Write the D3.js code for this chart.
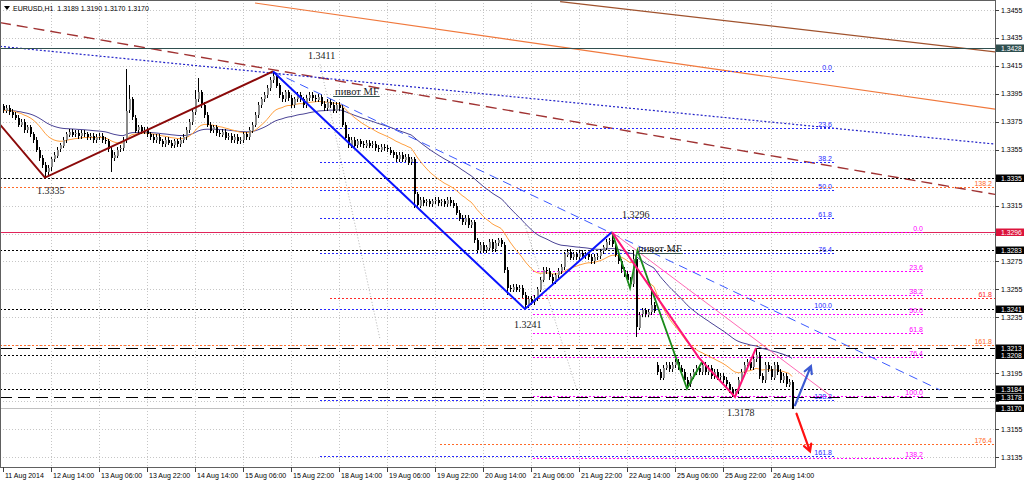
<!DOCTYPE html>
<html><head><meta charset="utf-8">
<script src="https://cdn.jsdelivr.net/npm/d3@7"></script>
<style>body{margin:0;background:#fff;overflow:hidden}svg{display:block}</style>
</head><body><svg id="c" width="1024" height="482"></svg>
<script>
// ---------------- DATA ----------------
const symbolHeader = "EURUSD,H1  1.3189 1.3190 1.3170 1.3170";
const firstOpen = 1.3386;
const closes = [
1.3383,1.3385,1.3382,1.3380,1.3378,1.3373,1.3375,1.3369,1.3371,1.3366,
1.3362,1.3355,1.3349,1.3344,1.3339,1.3342,1.3348,1.3351,1.3355,1.3358,
1.3362,1.3366,1.3368,1.3366,1.3367,1.3365,1.3367,1.3366,1.3364,1.3365,
1.3362,1.3364,1.3365,1.3362,1.3361,1.3355,1.3349,1.3351,1.3355,1.3356,
1.3362,1.3383,1.3391,1.3378,1.3369,1.3371,1.3368,1.3369,1.3366,1.3364,
1.3362,1.3364,1.3361,1.3359,1.3362,1.3360,1.3358,1.3361,1.3359,1.3362,
1.3364,1.3369,1.3375,1.3382,1.3391,1.3396,1.3387,1.3380,1.3373,1.3369,
1.3371,1.3367,1.3366,1.3368,1.3364,1.3365,1.3362,1.3364,1.3361,1.3362,
1.3366,1.3364,1.3369,1.3373,1.3380,1.3387,1.3391,1.3394,1.3399,1.3405,
1.3408,1.3401,1.3394,1.3391,1.3396,1.3392,1.3387,1.3391,1.3394,1.3391,
1.3387,1.3392,1.3394,1.3392,1.3391,1.3393,1.3388,1.3385,1.3389,1.3387,
1.3383,1.3387,1.3385,1.3373,1.3364,1.3358,1.3362,1.3358,1.3361,1.3359,
1.3358,1.3360,1.3358,1.3359,1.3356,1.3355,1.3357,1.3356,1.3355,1.3353,
1.3351,1.3348,1.3351,1.3348,1.3350,1.3346,1.3348,1.3323,1.3315,1.3319,
1.3317,1.3318,1.3316,1.3318,1.3319,1.3317,1.3318,1.3316,1.3319,1.3317,
1.3315,1.3310,1.3306,1.3303,1.3306,1.3301,1.3303,1.3290,1.3283,1.3287,
1.3283,1.3285,1.3289,1.3284,1.3288,1.3290,1.3287,1.3269,1.3256,1.3255,
1.3257,1.3255,1.3256,1.3251,1.3244,1.3248,1.3246,1.3249,1.3255,1.3262,
1.3269,1.3268,1.3264,1.3261,1.3265,1.3268,1.3271,1.3280,1.3282,1.3278,
1.3280,1.3278,1.3281,1.3279,1.3280,1.3278,1.3275,1.3278,1.3279,1.3282,
1.3285,1.3289,1.3290,1.3287,1.3280,1.3275,1.3269,1.3266,1.3262,1.3259,
1.3277,1.3228,1.3237,1.3240,1.3237,1.3239,1.3244,1.3240,1.3196,1.3192,
1.3199,1.3201,1.3198,1.3201,1.3203,1.3199,1.3196,1.3190,1.3187,1.3193,
1.3196,1.3199,1.3196,1.3201,1.3196,1.3199,1.3193,1.3196,1.3192,1.3193,
1.3190,1.3187,1.3183,1.3180,1.3182,1.3190,1.3196,1.3201,1.3203,1.3199,
1.3205,1.3208,1.3193,1.3190,1.3201,1.3198,1.3192,1.3201,1.3196,1.3190,
1.3193,1.3187,1.3189,1.3170];
const gapOpens = [[218, 1.3201]];
// [bar, high, low] (null = body edge + normal wick)
const spikes = [[14,null,1.3335],[36,null,1.3339],[41,1.3413,null],[42,1.3401,null],[64,1.3398,null],
 [65,1.3406,null],[90,1.3411,null],[137,null,1.3313],[168,null,1.3251],[174,null,1.3241],
 [203,1.3296,null],[210,1.3283,null],[211,null,1.3221],[216,1.3257,null],[244,null,1.3178],
 [251,1.3213,null],[263,1.3190,1.3170]];

const priceTickLabels = ["1.3135","1.3155","1.3175","1.3195","1.3215","1.3235","1.3255","1.3275",
 "1.3295","1.3315","1.3335","1.3355","1.3375","1.3395","1.3415","1.3435","1.3455"];
const timeTickBars = [0,16,32,48,64,80,96,112,128,144,160,176,192,208,224,240,256];
const timeTickLabels = ["11 Aug 2014","12 Aug 14:00","13 Aug 06:00","13 Aug 22:00","14 Aug 14:00",
 "15 Aug 06:00","15 Aug 22:00","18 Aug 14:00","19 Aug 06:00","19 Aug 22:00","20 Aug 14:00",
 "21 Aug 06:00","21 Aug 22:00","22 Aug 14:00","25 Aug 06:00","25 Aug 22:00","26 Aug 14:00"];

const blackDottedLevels = [1.3335, 1.3283, 1.3241, 1.3208, 1.3184];
const blackDashedLevels = [1.3213, 1.3178];
const resistanceLevel = 1.3296;
const upperLevel = 1.3428;
const bidLevel = 1.3170;
const priceBoxes = [1.3428, 1.3335, 1.3296, 1.3283, 1.3241, 1.3213, 1.3208, 1.3184, 1.3178, 1.3170];

const fibBlue = {a:1.3411, b:1.3241, from:105.7, to:277.3};
const fibBlueLevels = [0, 23.6, 38.2, 50.0, 61.8, 76.4, 100.0, 138.2, 161.8];
const fibMag = {a:1.3296, b:1.3179, from:176.7, to:307.3};
const fibMagLevels = [0, 23.6, 38.2, 50.0, 61.8, 76.4, 100.0, 138.2];
// orange expansion levels: [price, label, start bar]
const orangeLevels = [[1.3328,"138.2",-1],[1.3249,"61.8",109],[1.3215,"161.8",-1],[1.3144,"176.4",145.7]];

const maroonZig = [[-1,1.3373],[14,1.3335],[90,1.3411]];
const blueZig = [[90,1.3411],[174,1.3241],[203,1.3296]];
const greenZig = [[203,1.3296],[209,1.3256],[211.5,1.3283],[228,1.3184],[233,1.3203]];
const pinkZig = [[203,1.3296],[232,1.3206],[244,1.3178],[251,1.3213]];
const pinkThin = [[203,1.3296],[275.7,1.3179]];
const blueDashLine = [[90,1.3411],[312.3,1.3183]];
const navyDotLine = [[-1,1.3429],[330.7,1.3359]];
const maroonDashLine = [[-1,1.3446],[330.7,1.3323]];
const orangeLine = [[84,1.3460],[330.7,1.3384]];
const brownLine = [[185.7,1.3461],[330.7,1.3425]];
const grayLine1 = [[105.7,1.3416],[125.7,1.3219]];
const grayLine2 = [[174,1.3301],[191.3,1.3183]];
const upArrow = [[264,1.3172],[269.3,1.3200]];
const downArrow = [[264.5,1.3166],[269,1.3139]];

const priceNotes = [[101.7,1.3420,"1.3411"],[11.3,1.3323,"1.3335"],[206.3,1.3306,"1.3296"],
 [170.3,1.3227,"1.3241"],[241.3,1.3164,"1.3178"]];
const pivotNotes = [[110.7,1.3394,"пивот MF"],[211.7,1.3282,"пивот MF"]];

// ---------------- DRAW ----------------
const plotR = 995, plotB = 467;
const svg = d3.select('#c');
const x = d3.scaleLinear().domain([0, 263]).range([3, 792]);
const y = d3.scaleLinear().domain([1.3135, 1.3455]).range([457, 10]);
const line = d3.line().x(d => x(d[0])).y(d => y(d[1]));
const py = p => Math.round(y(p)) + 0.5;

svg.append('rect').attr('width',1024).attr('height',482).attr('fill','#fff');
svg.append('defs').append('clipPath').attr('id','clip').append('rect')
  .attr('x',0).attr('y',0).attr('width',plotR).attr('height',plotB);
const g = svg.append('g').attr('clip-path','url(#clip)');

// grid
g.selectAll('.hg').data(priceTickLabels).join('line')
  .attr('x1',0).attr('x2',plotR).attr('y1',d=>py(+d)).attr('y2',d=>py(+d))
  .attr('stroke','#c6c6c6').attr('stroke-dasharray','1,2');
g.selectAll('.vg').data(timeTickBars.slice(1)).join('line')
  .attr('x1',d=>x(d)+0.5).attr('x2',d=>x(d)+0.5).attr('y1',0).attr('y2',plotB)
  .attr('stroke','#c6c6c6').attr('stroke-dasharray','1,2');

function hline(p, b0, b1, color, dash, w) {
  const x0 = b0 == null ? 0 : x(b0), x1 = b1 == null ? plotR : x(b1);
  g.append('line').attr('x1',x0).attr('x2',x1).attr('y1',py(p)).attr('y2',py(p))
    .attr('stroke',color).attr('stroke-width',w||1).attr('stroke-dasharray',dash||null)
    .attr('shape-rendering','crispEdges');
}
function label(px, pyv, t, color, anchor) {
  g.append('text').attr('x',px).attr('y',pyv).text(t).attr('fill',color)
    .attr('font-family','Liberation Sans, Arial, sans-serif').attr('font-size',7)
    .attr('text-anchor',anchor||'end');
}

// trend / channel lines in background
g.append('path').attr('d',line(orangeLine)).attr('stroke','#f0783c').attr('fill','none').attr('stroke-width',1.2);
g.append('path').attr('d',line(brownLine)).attr('stroke','#a0522d').attr('fill','none').attr('stroke-width',1.2);
g.append('path').attr('d',line(maroonDashLine)).attr('stroke','#a03232').attr('fill','none')
  .attr('stroke-width',1.4).attr('stroke-dasharray','11,6');
g.append('path').attr('d',line(navyDotLine)).attr('stroke','#2020c8').attr('fill','none')
  .attr('stroke-width',1.2).attr('stroke-dasharray','2,2');
[grayLine1, grayLine2].forEach(l => g.append('path').attr('d',line(l)).attr('stroke','#b4b4b4')
  .attr('fill','none').attr('stroke-dasharray','1,2'));

// horizontal levels
hline(upperLevel, null, null, '#2f4f4f', null, 1);
blackDottedLevels.forEach(p => hline(p, null, null, '#000', '2,2', 1));
blackDashedLevels.forEach(p => hline(p, null, null, '#000', '12,6', 1));
hline(resistanceLevel, null, null, '#e0245a', null, 1);
hline(bidLevel, null, null, '#c0c0c0', null, 1);

// fib (blue)
fibBlueLevels.forEach(L => {
  const p = fibBlue.a + (fibBlue.b - fibBlue.a) * L / 100;
  hline(p, fibBlue.from, fibBlue.to, '#2828ff', '2,2', 1);
  label(x(fibBlue.to) - 3, py(p) - 1.5, L.toFixed(1), '#2828ff');
});
// fib (magenta)
fibMagLevels.forEach(L => {
  const p = fibMag.a + (fibMag.b - fibMag.a) * L / 100;
  hline(p, fibMag.from, fibMag.to, '#ff00ff', '2,2', 1);
  label(x(fibMag.to) - 2, py(p) - 1.5, L.toFixed(1), '#ff00ff');
});
// orange expansion
orangeLevels.forEach(([p, t, b]) => {
  const c = t === "61.8" ? '#ff2828' : '#ff6a28';
  hline(p, b, null, c, '2,2', 1);
  label(plotR - 3, py(p) - 1.5, t, c);
});

// moving averages
function ema(arr, n) { const k = 2/(n+1); let e = arr[0]; return arr.map(v => (e = v*k + e*(1-k))); }
const maFast = ema(closes, 21), maSlow = ema(closes, 50);
g.append('path').attr('d', d3.line().x((d,i)=>x(i)).y(d=>y(d))(maSlow))
  .attr('stroke','#4b4496').attr('fill','none').attr('stroke-width',1);
g.append('path').attr('d', d3.line().x((d,i)=>x(i)).y(d=>y(d))(maFast))
  .attr('stroke','#ffa040').attr('fill','none').attr('stroke-width',1);

// candles
const gapMap = new Map(gapOpens), spikeMap = new Map(spikes.map(s => [s[0], s]));
const bars = closes.map((c, i) => {
  const o = gapMap.has(i) ? gapMap.get(i) : (i ? closes[i-1] : firstOpen);
  let h = Math.max(o, c) + 0.0002, l = Math.min(o, c) - 0.0002;
  const s = spikeMap.get(i);
  if (s) { if (s[1] != null) h = s[1]; if (s[2] != null) l = s[2]; }
  return {i, o, c, h, l};
});
const cg = g.append('g').attr('shape-rendering','crispEdges');
cg.selectAll('.w').data(bars).join('line')
  .attr('x1',d=>x(d.i)+0.5).attr('x2',d=>x(d.i)+0.5).attr('y1',d=>y(d.h)).attr('y2',d=>y(d.l))
  .attr('stroke','#000');
cg.selectAll('.b').data(bars).join('rect')
  .attr('x',d=>x(d.i)-0.5).attr('width',2)
  .attr('y',d=>Math.round(y(Math.max(d.o,d.c))))
  .attr('height',d=>Math.max(1, Math.round(Math.abs(y(d.o)-y(d.c)))))
  .attr('fill',d=>d.c >= d.o ? '#8a8a8a' : '#000');

// zigzags / trend lines over candles
g.append('path').attr('d',line(blueDashLine)).attr('stroke','#3c5aff').attr('fill','none')
  .attr('stroke-width',1).attr('stroke-dasharray','9,6');
g.append('path').attr('d',line(pinkThin)).attr('stroke','#ff69b4').attr('fill','none').attr('stroke-width',1);
g.append('path').attr('d',line(maroonZig)).attr('stroke','#8b0a0a').attr('fill','none').attr('stroke-width',2);
g.append('path').attr('d',line(blueZig)).attr('stroke','#0a14ff').attr('fill','none').attr('stroke-width',2);
g.append('path').attr('d',line(greenZig)).attr('stroke','#1a8a1a').attr('fill','none').attr('stroke-width',1.8);
g.append('path').attr('d',line(pinkZig)).attr('stroke','#ff1478').attr('fill','none').attr('stroke-width',2);

// arrows
function arrow(a, color) {
  const x0=x(a[0][0]), y0=y(a[0][1]), x1=x(a[1][0]), y1=y(a[1][1]);
  const ang = Math.atan2(y1-y0, x1-x0), L = 8;
  const p1 = [x1 - L*Math.cos(ang-0.5), y1 - L*Math.sin(ang-0.5)];
  const p2 = [x1 - L*Math.cos(ang+0.5), y1 - L*Math.sin(ang+0.5)];
  g.append('path').attr('d',`M${x0},${y0}L${x1},${y1}M${p1}L${x1},${y1}L${p2}`)
    .attr('stroke',color).attr('stroke-width',2.2).attr('fill','none').attr('stroke-linecap','round');
}
arrow(upArrow, '#3c5ad2');
arrow(downArrow, '#ff1010');

// notes
priceNotes.forEach(([b,p,t]) => g.append('text').attr('x',x(b)).attr('y',y(p)).text(t)
  .attr('font-family','Liberation Serif, Times New Roman, serif').attr('font-size',10).attr('fill','#1a1a1a'));
pivotNotes.forEach(([b,p,t]) => {
  const tx = g.append('text').attr('x',x(b)).attr('y',y(p)).text(t)
    .attr('font-family','Liberation Serif, Times New Roman, serif').attr('font-size',10.5).attr('fill','#1a1a1a');
  const w = tx.node().getComputedTextLength();
  g.append('line').attr('x1',x(b)-2).attr('x2',x(b)+w+1).attr('y1',py(p)+1).attr('y2',py(p)+1)
    .attr('stroke','#2f4f4f').attr('stroke-width',1.2);
});

// frame
svg.append('rect').attr('x',0.5).attr('y',0.5).attr('width',plotR).attr('height',plotB)
  .attr('fill','none').attr('stroke','#606060').attr('shape-rendering','crispEdges');

// price axis
const ax = svg.append('g').attr('font-family','Liberation Sans, Arial, sans-serif').attr('font-size',7);
priceTickLabels.forEach(t => {
  ax.append('line').attr('x1',plotR).attr('x2',plotR+4).attr('y1',py(+t)).attr('y2',py(+t)).attr('stroke','#404040');
  // labels covered by a price box are hidden, as in the terminal
  const covered = priceBoxes.some(p => Math.abs(y(p) - y(+t)) < 7.5);
  if (!covered) ax.append('text').attr('x',plotR+6).attr('y',y(+t)+2.5).text(t).attr('fill','#000');
});
// time axis
timeTickBars.forEach((b,k) => {
  ax.append('line').attr('x1',x(b)+0.5).attr('x2',x(b)+0.5).attr('y1',plotB).attr('y2',plotB+5).attr('stroke','#404040');
  ax.append('text').attr('x',x(b)+2).attr('y',plotB+11).text(timeTickLabels[k]).attr('fill','#000');
});
// price boxes
priceBoxes.forEach(p => {
  const bg = p === upperLevel ? '#2f4f4f' : (p === resistanceLevel ? '#dc143c' : '#000');
  const yy = Math.round(y(p));
  ax.append('rect').attr('x',plotR+1).attr('y',yy-3.5).attr('width',28).attr('height',7.5).attr('fill',bg);
  ax.append('text').attr('x',plotR+6).attr('y',yy+2.5).text(p.toFixed(4)).attr('fill','#fff')
    .attr('font-size',6.8);
});

// header
svg.append('path').attr('d','M4,6L10,6L7,10Z').attr('fill','#000');
svg.append('text').attr('x',13).attr('y',10.5).text(symbolHeader).attr('xml:space','preserve')
  .attr('font-family','Liberation Sans, Arial, sans-serif').attr('font-size',7).attr('fill','#000')
  .style('white-space','pre');
</script></body></html>
